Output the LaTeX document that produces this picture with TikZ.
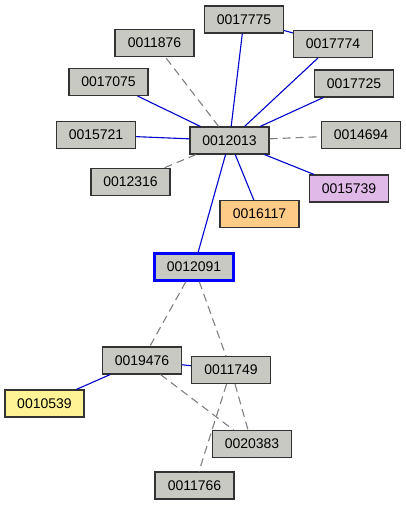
\documentclass[tikz,border=0pt]{standalone}
\usepackage{fontspec}
\setmainfont{Liberation Sans}
\definecolor{boxgray}{RGB}{200,201,195}
\definecolor{boxorange}{RGB}{255,204,136}
\definecolor{boxpurple}{RGB}{225,185,232}
\definecolor{boxyellow}{RGB}{255,243,150}
\definecolor{linkblue}{RGB}{0,0,205}
\definecolor{linkgray}{RGB}{128,128,128}

\begin{document}
\begin{tikzpicture}[x=1pt,y=-1pt,line cap=butt,line join=miter,
  idbox/.style={draw=black!80, line width=1.1pt, fill=boxgray, minimum width=79pt,
    minimum height=27pt, inner sep=0pt, font=\fontsize{14}{16}\selectfont},
  hit/.style={linkblue, line width=1.1pt},
  weak/.style={linkgray, line width=1.1pt, dash pattern=on 8pt off 5pt}]
  \useasboundingbox (0,0) rectangle (406,505);

  % boxes
  \node[idbox] (n17775) at (244,19.5) {0017775};
  \node[idbox] (n17774) at (333,44) {0017774};
  \node[idbox] (n11876) at (154.5,43) {0011876};
  \node[idbox] (n17075) at (108.5,82) {0017075};
  \node[idbox] (n17725) at (354,83.5) {0017725};
  \node[idbox] (n15721) at (96,135) {0015721};
  \node[idbox] (n12013) at (229.5,140.5) {0012013};
  \node[idbox] (n14694) at (361,135) {0014694};
  \node[idbox] (n12316) at (130.5,182) {0012316};
  \node[idbox, fill=boxpurple] (n15739) at (349,188.5) {0015739};
  \node[idbox, fill=boxorange] (n16117) at (259.5,214) {0016117};
  \node[idbox, draw=blue, line width=2.4pt] (n12091) at (194,267) {0012091};
  \node[idbox] (n19476) at (142,360.5) {0019476};
  \node[idbox] (n11749) at (231,370) {0011749};
  \node[idbox, fill=boxyellow] (n10539) at (44.5,403.5) {0010539};
  \node[idbox] (n20383) at (252,444) {0020383};
  \node[idbox] (n11766) at (194.5,485.5) {0011766};

  % links
  \foreach \a/\b in {n12013/n17775, n17775/n17774, n12013/n17774, n12013/n17075,
                     n12013/n17725, n12013/n15721, n12013/n15739, n12013/n16117,
                     n12013/n12091, n19476/n11749, n19476/n10539}{
    \draw[hit] (\a) -- (\b);
  }
  \foreach \a/\b in {n12013/n11876, n12013/n14694, n12013/n12316, n12091/n19476,
                     n12091/n11749, n19476/n20383, n11749/n20383, n11749/n11766}{
    \draw[weak] (\a) -- (\b);
  }
\end{tikzpicture}
\end{document}
